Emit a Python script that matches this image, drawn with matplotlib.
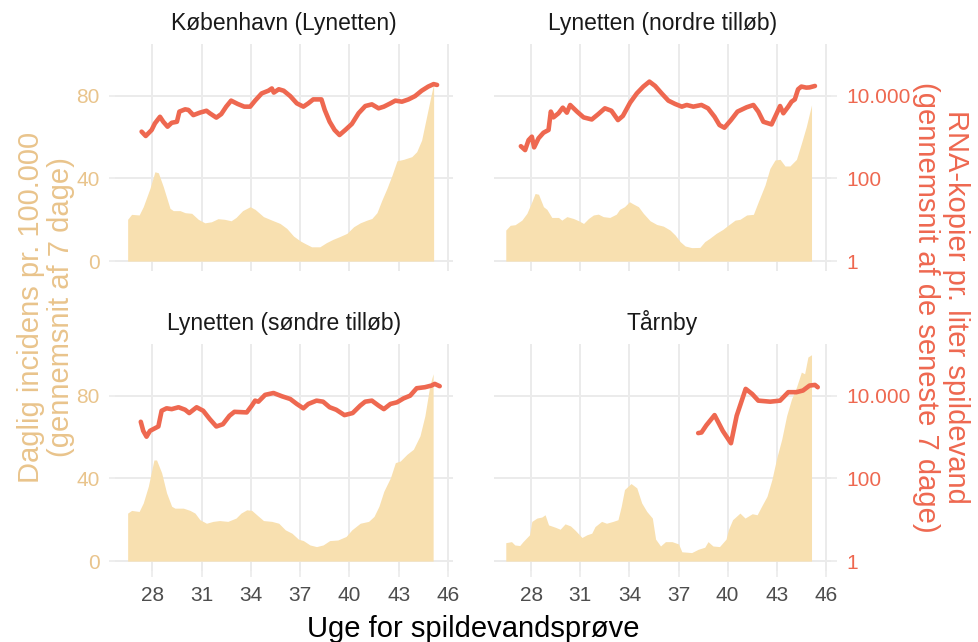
import matplotlib.pyplot as plt
from matplotlib.ticker import NullLocator

plt.rcParams['font.family'] = ['Liberation Sans', 'DejaVu Sans']

titles = ["København (Lynetten)", "Lynetten (nordre tilløb)",
          "Lynetten (søndre tilløb)", "Tårnby"]
week_ticks = [28, 31, 34, 37, 40, 43, 46]
inc_ticks = [0, 40, 80]
rna_ticks = [1, 100, 10000]
rna_tick_labels = ["1", "100", "10.000"]

# København (Lynetten)
kbh_inc_uge = [26.5, 26.74, 27.2, 27.45, 27.86, 28.16, 28.37, 28.67, 29.08, 29.28, 29.69, 30.0, 30.4,
               30.8, 31.2, 31.6, 32.0, 32.4, 32.8, 33.1, 33.5, 33.96, 34.26, 34.77, 35.28, 35.78, 36.19,
               36.6, 37.0, 37.3, 37.7, 38.2, 38.6, 39.0, 39.4, 39.85, 40.26, 40.66, 41.07, 41.37, 41.68,
               41.98, 42.29, 42.6, 42.9, 43.3, 43.8, 44.1, 44.4, 44.7, 45.0, 45.13]
kbh_inc = [20.2, 22.6, 22.3, 26.3, 35.2, 43.2, 42.7, 36.0, 25.5, 24.4, 24.4, 23.4, 23.1,
           20.2, 18.5, 19.0, 20.5, 20.2, 19.5, 21.1, 24.4, 26.3, 25.0, 21.5, 19.8, 18.2, 15.8,
           12.1, 9.8, 8.5, 6.9, 6.9, 8.9, 10.5, 11.8, 13.4, 16.6, 18.5, 19.8, 20.6, 23.4,
           29.5, 35.2, 41.6, 48.5, 49.2, 50.5, 52.9, 58.5, 69.8, 81.1, 85.6]
kbh_rna_uge = [27.35, 27.6, 27.96, 28.16, 28.47, 28.67, 28.93, 29.18, 29.5, 29.65, 30.0, 30.2, 30.5,
               30.9, 31.3, 31.5, 31.9, 32.2, 32.5, 32.8, 33.2, 33.6, 33.96, 34.26, 34.66, 35.07, 35.28,
               35.4, 35.7, 36.0, 36.4, 36.8, 37.2, 37.5, 37.8, 38.3, 38.5, 38.8, 39.1, 39.4, 39.75,
               40.15, 40.56, 40.97, 41.37, 41.78, 42.1, 42.5, 42.8, 43.2, 43.6, 44.0, 44.4, 44.8,
               45.13, 45.34]
kbh_rna = [1350, 1060, 1480, 2140, 3090, 2340, 1780, 2210, 2340, 4120, 4680, 4520, 3390,
           3890, 4320, 3760, 2950, 3590, 5430, 7590, 6310, 5430, 5430, 7590, 11350, 13180, 14960,
           11890, 14290, 13180, 9770, 6530, 5430, 6530, 8130, 8130, 4520, 2340, 1480, 1120, 1480,
           2070, 3760, 5620, 6170, 4950, 5430, 6530, 7590, 7160, 8130, 9770, 13180, 16600,
           19050, 18200]

# Lynetten (nordre tilløb)
nord_inc_uge = [26.45, 26.72, 27.02, 27.43, 27.74, 28.04, 28.24, 28.45, 28.75, 28.96, 29.26, 29.67,
                29.87, 30.18, 30.58, 30.9, 31.2, 31.5, 31.8, 32.1, 32.4, 32.8, 33.2, 33.4, 33.7, 34.0,
                34.24, 34.55, 34.85, 35.26, 35.67, 36.07, 36.48, 36.79, 37.1, 37.4, 37.8, 38.3, 38.6,
                38.9, 39.3, 39.7, 40.04, 40.45, 40.75, 41.16, 41.57, 41.87, 42.28, 42.58, 42.89, 43.2,
                43.5, 43.8, 44.2, 44.5, 44.8, 45.12]
nord_inc = [15.0, 17.3, 17.6, 19.8, 23.1, 28.7, 32.7, 32.3, 26.3, 25.0, 21.1, 21.1,
            19.8, 21.5, 20.6, 19.5, 18.2, 20.6, 22.3, 22.7, 21.5, 21.1, 22.7, 25.0, 26.3, 28.7,
            27.6, 26.3, 23.1, 19.5, 17.7, 16.9, 15.0, 12.6, 9.4, 7.3, 6.5, 6.6, 9.4,
            11.0, 13.4, 15.3, 17.4, 19.8, 20.2, 22.3, 22.6, 28.7, 36.8, 44.8, 48.9, 49.2,
            46.0, 46.0, 49.2, 56.9, 65.0, 75.5]
nord_rna_uge = [27.37, 27.63, 27.84, 28.04, 28.18, 28.45, 28.75, 29.06, 29.2, 29.36, 29.67, 29.93,
                30.18, 30.38, 30.8, 31.2, 31.7, 32.1, 32.5, 32.9, 33.3, 33.6, 34.04, 34.45, 34.85,
                35.22, 35.57, 35.97, 36.38, 36.79, 37.2, 37.5, 37.9, 38.4, 38.8, 39.2, 39.5, 39.8,
                40.2, 40.6, 41.16, 41.57, 41.87, 42.18, 42.68, 43.0, 43.2, 43.4, 43.7, 43.9, 44.1,
                44.3, 44.5, 44.8, 45.0, 45.33]
nord_rna = [600, 484, 841, 1020, 562, 933, 1270, 1480, 4120, 2990, 3760, 5130,
            3890, 5960, 4120, 2990, 2660, 3590, 4950, 4320, 2570, 3240, 6760, 11350, 16600,
            21880, 17180, 11350, 7590, 6310, 5430, 5960, 5430, 5960, 4950, 3090, 1950, 1680,
            2570, 4120, 5250, 5960, 4120, 2340, 2020, 3760, 5620, 3760, 5430, 7160, 8130,
            14290, 16600, 15670, 15850, 17180]

# Lynetten (søndre tilløb)
syd_inc_uge = [26.5, 26.74, 27.2, 27.45, 27.76, 28.1, 28.26, 28.57, 28.87, 29.18, 29.38, 29.89, 30.3,
               30.6, 30.9, 31.3, 31.7, 32.1, 32.6, 33.1, 33.4, 33.75, 34.06, 34.36, 34.77, 35.28, 35.7,
               36.1, 36.5, 36.9, 37.2, 37.6, 38.0, 38.4, 38.8, 39.3, 39.8, 40.15, 40.66, 41.17, 41.5,
               41.8, 42.1, 42.5, 42.8, 43.1, 43.5, 43.9, 44.3, 44.6, 44.9, 45.1]
syd_inc = [23.2, 24.5, 24.0, 28.1, 36.2, 48.9, 48.9, 42.7, 33.0, 26.5, 25.6, 25.6, 24.5,
           23.2, 20.0, 18.3, 19.2, 19.6, 19.2, 20.8, 23.2, 24.8, 24.5, 22.4, 19.6, 19.2, 18.3,
           15.1, 13.5, 10.6, 9.9, 7.8, 7.0, 7.8, 9.9, 10.2, 11.9, 15.1, 18.3, 19.2, 21.6,
           26.5, 33.8, 40.3, 47.6, 48.4, 51.6, 54.1, 60.6, 70.3, 84.9, 90.6]
syd_rna_uge = [27.3, 27.45, 27.65, 27.86, 28.37, 28.57, 28.87, 29.18, 29.6, 30.0, 30.25, 30.7, 31.1,
               31.5, 31.9, 32.3, 32.7, 33.0, 33.75, 34.06, 34.26, 34.46, 34.87, 35.38, 35.9, 36.4,
               36.8, 37.2, 37.5, 38.0, 38.4, 38.8, 39.2, 39.7, 40.2, 40.66, 40.96, 41.37, 41.78,
               42.1, 42.5, 42.9, 43.3, 43.7, 44.1, 44.6, 45.0, 45.2, 45.5]
syd_rna = [2340, 1410, 1020, 1410, 1800, 4320, 4950, 4730, 5250, 4570, 3800, 5250, 4320,
           2720, 1800, 2040, 3270, 4070, 3940, 5750, 7590, 7160, 10470, 11610, 9660, 8320,
           6310, 4950, 6310, 7590, 7160, 5250, 4570, 3390, 3800, 5750, 7160, 7590, 5750,
           4730, 6310, 6920, 8610, 10000, 15140, 16030, 17580, 19280, 16980]

# Tårnby
taa_inc_uge = [26.45, 26.8, 27.0, 27.3, 27.5, 27.9, 28.04, 28.35, 28.65, 28.85, 29.06, 29.46, 29.77,
               30.07, 30.4, 30.7, 31.1, 31.4, 31.7, 31.9, 32.3, 32.6, 33.0, 33.3, 33.5, 33.7, 34.1,
               34.45, 34.75, 35.06, 35.4, 35.6, 35.9, 36.2, 36.6, 37.0, 37.2, 37.8, 38.2, 38.6,
               38.8, 39.1, 39.5, 39.9, 40.04, 40.3, 40.75, 41.06, 41.5, 41.8, 42.07, 42.4, 42.7,
               43.0, 43.3, 43.6, 43.9, 44.2, 44.5, 44.7, 44.9, 45.12]
taa_inc = [8.9, 9.4, 7.8, 7.5, 9.4, 12.7, 19.2, 20.8, 21.3, 22.4, 17.5, 16.4, 15.4,
           18.0, 17.0, 14.8, 11.4, 12.7, 13.5, 16.7, 19.2, 18.3, 19.2, 20.0, 26.5, 34.6, 37.5,
           35.4, 28.1, 24.0, 20.8, 10.6, 7.3, 9.4, 9.4, 8.3, 4.5, 4.1, 5.7, 6.7,
           9.4, 7.3, 7.0, 10.6, 15.1, 20.0, 23.2, 20.8, 22.9, 22.4, 26.5, 31.3, 39.4,
           50.0, 58.9, 70.3, 78.4, 84.1, 91.4, 90.6, 98.7, 99.8]
taa_rna_uge = [38.2, 38.4, 38.7, 39.2, 39.7, 40.2, 40.55, 41.1, 41.5, 41.87, 42.6, 43.2, 43.7,
               44.2, 44.6, 45.0, 45.33, 45.5]
taa_rna = [1245, 1288, 1928, 3390, 1410, 708, 3270, 14620, 10960, 7590, 7160, 7590, 12160,
           12160, 13340, 17580, 18200, 16030]

panels = [
    (kbh_inc_uge, kbh_inc, kbh_rna_uge, kbh_rna),
    (nord_inc_uge, nord_inc, nord_rna_uge, nord_rna),
    (syd_inc_uge, syd_inc, syd_rna_uge, syd_rna),
    (taa_inc_uge, taa_inc, taa_rna_uge, taa_rna),
]

AREA = '#F8E0B0'
TAN = '#E9C48C'
RED = '#EE6850'
GRID = '#EBEBEB'
W, H = 979, 642

fig = plt.figure(figsize=(W / 100, H / 100), dpi=100)

# panel boxes in pixels: left, top, width, height
boxes = [(115, 44, 338, 227), (494, 44, 337, 227),
         (115, 344, 338, 227), (494, 344, 337, 227)]
ylo, yhi = -4.8, 105

for i, (box, title, data) in enumerate(zip(boxes, titles, panels)):
    l, t, w, h = box
    ax = fig.add_axes([l / W, 1 - (t + h) / H, w / W, h / H])
    inc_x, inc_y, rna_x, rna_y = data
    ax.fill_between(inc_x, 0, inc_y, color=AREA, lw=0, zorder=2)
    ax.set_xlim(25.73, 46.31)
    ax.set_ylim(ylo, yhi)
    ax.set_xticks(week_ticks)
    ax.set_yticks(inc_ticks)
    ax.grid(color=GRID, lw=1.4)
    ax.set_axisbelow(True)
    for s in ax.spines.values():
        s.set_visible(False)

    # secondary log axis: 1 -> 0, 100 -> 40, 10.000 -> 80
    ax2 = ax.twinx()
    ax2.set_yscale('log')
    ax2.set_ylim(10 ** (ylo / 20), 10 ** (yhi / 20))
    ax2.plot(rna_x, rna_y, color=RED, lw=3.3, solid_capstyle='round', solid_joinstyle='round')
    ax2.set_yticks(rna_ticks)
    ax2.set_yticklabels(rna_tick_labels)
    ax2.yaxis.set_minor_locator(NullLocator())
    for s in ax2.spines.values():
        s.set_visible(False)

    left_col = i % 2 == 0
    bottom_row = i >= 2
    ax.tick_params(axis='x', length=4 if bottom_row else 0, color=GRID, width=1.2,
                   labelbottom=bottom_row, labelsize=15, labelcolor='#4D4D4D', pad=7)
    ax.tick_params(axis='y', length=4 if left_col else 0, color=GRID, width=1.2,
                   labelleft=left_col, labelsize=15, labelcolor=TAN, pad=7)
    ax2.tick_params(axis='y', length=0 if left_col else 4, color=GRID, width=1.2,
                    labelright=not left_col, labelsize=15, labelcolor=RED, pad=7)

    ax.text(0.5, 1 + 14 / h, title, transform=ax.transAxes, ha='center', va='baseline',
            fontsize=16.5, color='#1A1A1A')

fig.text(46 / W, 1 - 307 / H, "Daglig incidens pr. 100.000\n(gennemsnit af 7 dage)",
         rotation=90, ha='center', va='center', fontsize=21, color=TAN,
         multialignment='center', linespacing=1.1)
fig.text(941 / W, 1 - 307 / H, "RNA-kopier pr. liter spildevand\n(gennemsnit af de seneste 7 dage)",
         rotation=-90, ha='center', va='center', fontsize=21, color=RED,
         multialignment='center', linespacing=1.1)
fig.text(473 / W, 1 - 637 / H, "Uge for spildevandsprøve", ha='center', va='baseline',
         fontsize=21, color='black')

fig.savefig('out.png', dpi=100, facecolor='white')
